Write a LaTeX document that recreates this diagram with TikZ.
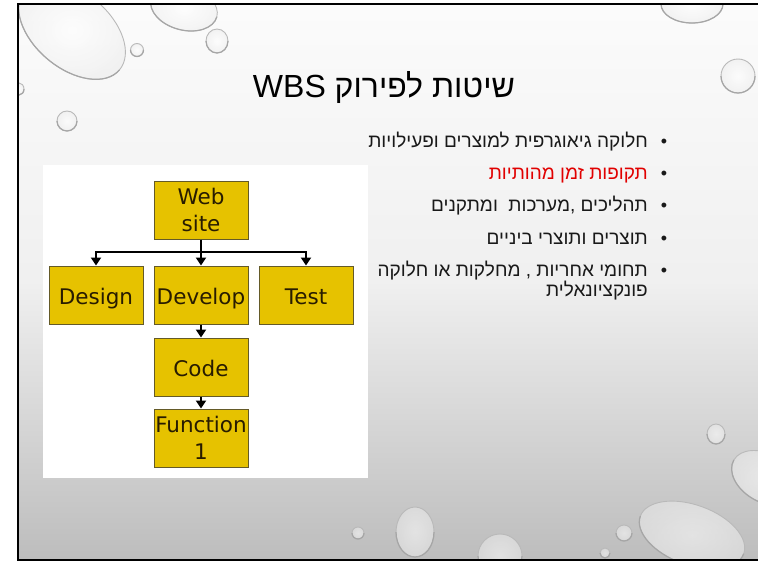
\documentclass[tikz,border=0pt]{standalone}
\usepackage{fontspec}
\usetikzlibrary{arrows.meta,positioning,calc}
\TeXXeTstate=1
\newfontfamily\hebfont[Script=Hebrew]{Liberation Sans}
\newfontfamily\boxfont{DejaVu Sans}
\definecolor{boxfill}{RGB}{230,194,0}
\definecolor{boxline}{RGB}{100,90,40}
\definecolor{boxtext}{RGB}{40,28,0}
\definecolor{redtxt}{RGB}{225,0,0}
\tikzset{
  wbsbox/.style={draw=boxline, line width=1pt, fill=boxfill, minimum width=94pt, minimum height=58pt,
    inner sep=0pt, align=center, font=\boxfont\fontsize{21.5}{27}\selectfont, text=boxtext},
  oneline/.style={text height=20pt, text depth=2pt},
  conn/.style={line width=1.8pt, draw=black},
  arr/.style={conn, -{Triangle[length=8pt,width=10pt]}},
  drop/.style={draw=gray!55, line width=0.9pt, inner color=white, outer color=gray!15, fill opacity=0.55},
  bul/.style={font=\hebfont\fontsize{19}{22}\selectfont, text=black!90, inner sep=0pt},
}
\begin{document}
\begin{tikzpicture}[x=1pt,y=-1pt]
\useasboundingbox (0,0) rectangle (758,562);
\fill[white] (0,0) rectangle (758,562);
% slide background
\shade[top color=white!97!gray, bottom color=gray!52, middle color=gray!12, shading angle=0] (18,4) rectangle (758,560);
\begin{scope}
\clip (18,4) rectangle (758,560);
\foreach \cx/\cy/\rx/\ry/\rot in {72/30/62/38/-40, 137/50/6.5/6.5/0, 184/8/34/22/-15, 217/41/11/12/0,
   67/121/10/10/0, 19/89/5/6/0, 692/4/31/19/0, 738/76/17/17/0, 716/434/9/10/0, 765/478/36/24/-30,
   692/535/55/30/-20, 624/533/8/8/0, 605/553/5/5/0, 500/556/22/22/0, 415/532/19/25/0, 358/533/6/6/0}
  {\shade[drop, rotate around={\rot:(\cx,\cy)}] (\cx,\cy) ellipse [x radius=\rx, y radius=\ry];
   \draw[gray!70, line width=1.2pt, rotate around={\rot:(\cx,\cy)}] ($(\cx,\cy)+(-\rx,0)$) arc[start angle=180, end angle=0, x radius=\rx, y radius=\ry];}
\end{scope}
\draw[line width=2pt] (770,4) -- (18,4) -- (18,560) -- (770,560);
% title
\node[anchor=base, font=\hebfont\fontsize{32}{36}\selectfont, inner sep=0pt] (title) at (384,97)
  {\beginR שיטות לפירוק \beginL WBS\endL\endR};
% bullets
\node[bul, anchor=base east] (t1) at (648,147) {\beginR חלוקה גיאוגרפית למוצרים ופעילויות\endR};
\node[bul, anchor=base east, text=redtxt] (t2) at (648,179) {\beginR תקופות זמן מהותיות\endR};
\node[bul, anchor=base east] (t3) at (648,211) {\beginR תהליכים ,מערכות \ ומתקנים\endR};
\node[bul, anchor=base east] (t4) at (648,244) {\beginR תוצרים ותוצרי ביניים\endR};
\node[bul, anchor=base east] (t5) at (648,276) {\beginR תחומי אחריות , מחלקות או חלוקה\endR};
\node[bul, anchor=base east] (t6) at (648,296) {\beginR פונקציונאלית\endR};
\foreach \y/\n in {147/1,179/2,211/3,244/4,276/5}
  \node[bul, anchor=base, font=\hebfont\fontsize{18}{20}\selectfont] (b\n) at (664,\y) {•};
% white panel
\fill[white] (43,165) rectangle (368,478);
% boxes
\node[wbsbox] (web) at (201,210) {Web\\site};
\node[wbsbox, oneline] (design) at (96,295) {Design};
\node[wbsbox, oneline] (develop) at (201,295) {Develop};
\node[wbsbox, oneline] (test) at (306,295) {Test};
\node[wbsbox, oneline] (code) at (201,367) {Code};
\node[wbsbox] (func) at (201,438) {Function\\1};
\coordinate (j) at (201,252);
\draw[conn] (web.south) -- (j);
\draw[arr] (j) -| (design.north);
\draw[arr] (j) -- (develop.north);
\draw[arr] (j) -| (test.north);
\draw[arr] (develop.south) -- (code.north);
\draw[arr] (code.south) -- (func.north);
\end{tikzpicture}
\end{document}
